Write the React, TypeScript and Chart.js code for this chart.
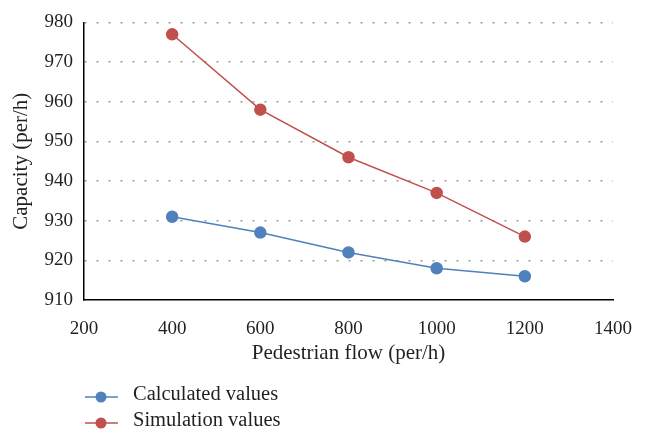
import React, { useEffect, useRef } from "react";
import { Chart, registerables } from "chart.js";

Chart.register(...registerables);

const pedestrianFlow = [400, 600, 800, 1000, 1200];
const calculatedValues = [931, 927, 922, 918, 916];
const simulationValues = [977, 958, 946, 937, 926];
const seriesLabels = ["Calculated values", "Simulation values"];

const FONT = "'Liberation Serif', 'Times New Roman', serif";
const BLUE = "#4F81BD";
const RED = "#C0504D";
const TEXT = "#231f20";

const legendPlugin = {
  id: "customLegend",
  afterDraw(chart: any) {
    const ctx = chart.ctx as CanvasRenderingContext2D;
    const ys = [397, 423];
    ctx.save();
    chart.data.datasets.forEach((ds: any, i: number) => {
      const y = ys[i];
      ctx.strokeStyle = ds.borderColor;
      ctx.lineWidth = 1.5;
      ctx.beginPath();
      ctx.moveTo(85, y);
      ctx.lineTo(118, y);
      ctx.stroke();
      ctx.fillStyle = ds.pointBackgroundColor;
      ctx.beginPath();
      ctx.arc(101, y, 5.5, 0, Math.PI * 2);
      ctx.fill();
      ctx.fillStyle = TEXT;
      ctx.font = `20.5px ${FONT}`;
      ctx.textBaseline = "middle";
      ctx.textAlign = "left";
      ctx.fillText(ds.label, 133, y - 2);
    });
    ctx.restore();
  },
};

export default function App() {
  const ref = useRef<HTMLCanvasElement | null>(null);
  useEffect(() => {
    if (!ref.current) return;
    const chart = new Chart(ref.current, {
      type: "line",
      data: {
        datasets: [
          {
            label: seriesLabels[0],
            data: pedestrianFlow.map((x, i) => ({ x, y: calculatedValues[i] })),
            borderColor: BLUE,
            backgroundColor: BLUE,
            pointBackgroundColor: BLUE,
            pointBorderColor: BLUE,
            pointRadius: 5.5,
            borderWidth: 1.5,
            tension: 0,
          },
          {
            label: seriesLabels[1],
            data: pedestrianFlow.map((x, i) => ({ x, y: simulationValues[i] })),
            borderColor: RED,
            backgroundColor: RED,
            pointBackgroundColor: RED,
            pointBorderColor: RED,
            pointRadius: 5.5,
            borderWidth: 1.5,
            tension: 0,
          },
        ],
      },
      options: {
        animation: false,
        responsive: false,
        maintainAspectRatio: false,
        layout: { padding: { left: 0, right: 37, top: 18, bottom: 67 } },
        plugins: {
          legend: { display: false },
          tooltip: { enabled: false },
        },
        scales: {
          x: {
            type: "linear",
            min: 200,
            max: 1400,
            ticks: {
              stepSize: 200,
              padding: 9.6,
              color: TEXT,
              font: { family: FONT, size: 19 },
              callback: (v: any) => String(v),
            },
            grid: { display: false },
            border: { display: true, color: "#000", width: 1.5 },
            title: {
              display: true,
              text: "Pedestrian flow (per/h)",
              color: TEXT,
              font: { family: FONT, size: 21 },
              padding: { top: 0, bottom: 1 },
            },
            afterFit: (s: any) => {
              s.height = 67;
            },
          },
          y: {
            type: "linear",
            min: 910,
            max: 980,
            ticks: {
              stepSize: 10,
              padding: 11,
              color: TEXT,
              font: { family: FONT, size: 19 },
              callback: (v: any) => String(v),
            },
            grid: {
              color: (c: any) => (c.tick && c.tick.value === 910 ? "rgba(0,0,0,0)" : "#999999"),
              lineWidth: 1.6,
              drawTicks: false,
            },
            border: { display: true, color: "#000", width: 1.5, dash: [2, 10], dashOffset: 0 },
            title: {
              display: true,
              text: "Capacity (per/h)",
              color: TEXT,
              font: { family: FONT, size: 21 },
              padding: { top: 9, bottom: 0 },
            },
            afterFit: (s: any) => {
              s.width = 84;
            },
          },
        },
      },
      plugins: [legendPlugin],
    });
    return () => chart.destroy();
  }, []);
  return (
    <div style={{ position: "fixed", left: 0, top: 0, width: 650, height: 434, background: "#fff" }}>
      <canvas ref={ref} width={650} height={434} style={{ width: 650, height: 434 }} />
    </div>
  );
}
